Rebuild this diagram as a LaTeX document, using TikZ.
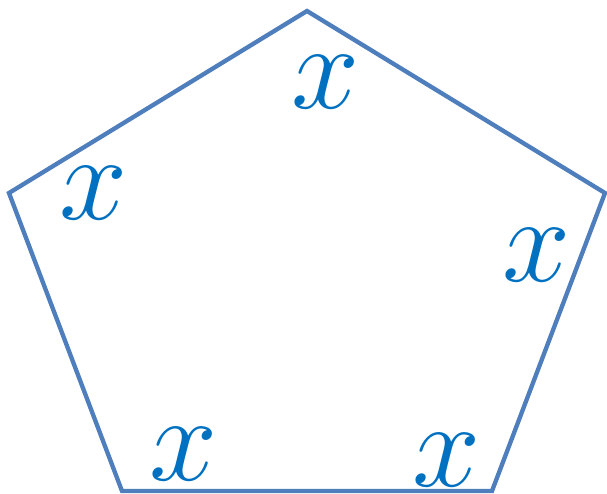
\documentclass[tikz,border=0pt]{standalone}
\usepackage{xcolor}
\usepackage{tikz}
\definecolor{edgeblue}{HTML}{4F7EBD}
\definecolor{letterblue}{HTML}{0070C0}

\begin{document}
\begin{tikzpicture}[
  x=0.3mm,y=-0.3mm,
  side/.style={draw=edgeblue,line width=1.3mm,line join=miter},
  letter/.style={text=letterblue,font=\Huge,scale=4.2,inner sep=0pt}
]
\useasboundingbox (0,0) rectangle (607,494);
\coordinate (top) at (307,11);
\coordinate (left) at (9,193);
\coordinate (right) at (605,193);
\coordinate (bl) at (122,491);
\coordinate (br) at (492,491);
\draw[side] (top) -- (right) -- (br) -- (bl) -- (left) -- cycle;
\node[letter] (xtop) at (326,82) {$x$};
\node[letter] (xleft) at (94,193) {$x$};
\node[letter] (xright) at (537,255) {$x$};
\node[letter] (xbl) at (184,454) {$x$};
\node[letter] (xbr) at (447,460) {$x$};
\end{tikzpicture}
\end{document}
